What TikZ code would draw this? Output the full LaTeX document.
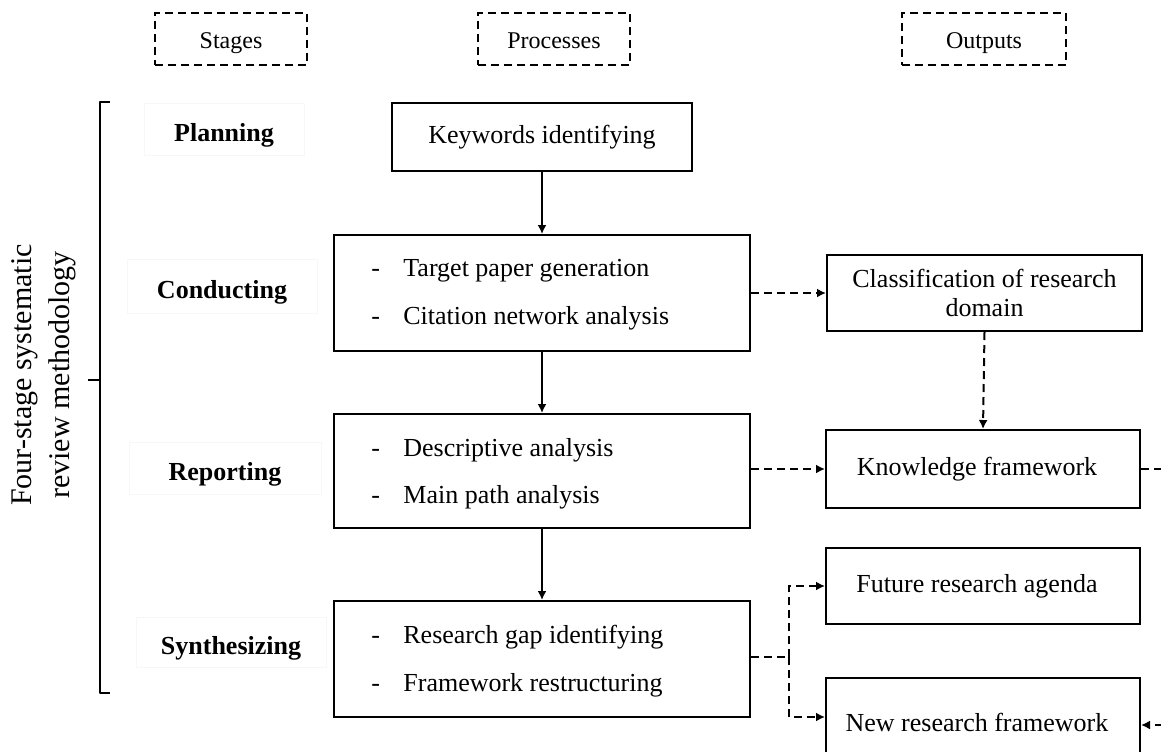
\documentclass[tikz,border=0pt]{standalone}
\usepackage{fontspec}
\setmainfont{Liberation Serif}
\usetikzlibrary{arrows.meta}
\begin{document}
\begin{tikzpicture}[x=0.5pt,y=-0.5pt,
  box/.style={draw,line width=1pt,inner sep=0pt,font=\fontsize{13}{16}\selectfont,align=center},
  head/.style={draw,line width=0.8pt,dash pattern=on 4pt off 2.5pt,inner sep=0pt,font=\fontsize{12}{14}\selectfont,minimum height=26pt,text height=10pt,text depth=1pt},
  stagelbl/.style={draw=black!3,line width=0.5pt,inner sep=0pt,font=\bfseries\fontsize{13}{16}\selectfont,text height=13pt,text depth=1pt},
  item/.style={anchor=west,inner sep=0pt,font=\fontsize{13}{16}\selectfont,text height=9pt,text depth=3pt},
  solidarr/.style={line width=1pt,-{Latex[length=4.5pt,width=4.5pt]}},
  dasharr/.style={line width=1pt,dash pattern=on 4pt off 2.5pt,-{Latex[length=4.5pt,width=4.5pt]}},
  dashline/.style={line width=1pt,dash pattern=on 4pt off 2.5pt}]
\useasboundingbox (0,0) rectangle (1161,751);
\clip (0,0) rectangle (1161,751);

% headers
\node[head,minimum width=76pt] (hs) at (231,39) {Stages};
\node[head,minimum width=76pt] (hp) at (554,39) {Processes};
\node[head,minimum width=82pt] (ho) at (984,39) {Outputs};

% brace
\draw[line width=1pt,line join=round] (110,102) -- (100,102) -- (100,693) -- (110,693);
\draw[line width=1pt] (100,380) -- (88,380);
\node[rotate=90,align=center,inner sep=0pt,font=\fontsize{15}{19}\selectfont] (side) at (44,375)
  {Four-stage systematic\\review methodology};

% stage labels
\node[stagelbl,minimum width=80pt,minimum height=26pt] (s1) at (224,129) {Planning};
\node[stagelbl,minimum width=95pt,minimum height=27pt] (s2) at (222,286) {Conducting};
\node[stagelbl,minimum width=96pt,minimum height=26pt] (s3) at (225,468) {Reporting};
\node[stagelbl,minimum width=95pt,minimum height=25pt] (s4) at (231,642) {Synthesizing};

% process boxes
\node[box,minimum width=150pt,minimum height=34pt] (p1) at (542,137) {Keywords identifying};
\node[box,minimum width=208pt,minimum height=58pt] (p2) at (542,293) {};
\node[box,minimum width=208pt,minimum height=57pt] (p3) at (542,471) {};
\node[box,minimum width=208pt,minimum height=58pt] (p4) at (542,659) {};

\node[item] (i21) at (371,270) {\makebox[16pt][l]{-}Target paper generation};
\node[item] (i22) at (371,318) {\makebox[16pt][l]{-}Citation network analysis};
\node[item] (i31) at (371,450) {\makebox[16pt][l]{-}Descriptive analysis};
\node[item] (i32) at (371,497) {\makebox[16pt][l]{-}Main path analysis};
\node[item] (i41) at (371,637) {\makebox[16pt][l]{-}Research gap identifying};
\node[item] (i42) at (371,685) {\makebox[16pt][l]{-}Framework restructuring};

% output boxes
\node[box,minimum width=157.5pt,minimum height=38pt] (o1) at (984.5,293) {Classification of research\\[-1.5pt]domain};
\node[box,minimum width=157pt,minimum height=39pt] (o2) at (983,469) {\hspace*{-6pt}Knowledge framework};
\node[box,minimum width=157pt,minimum height=38pt] (o3) at (983,586) {\hspace*{-6pt}Future research agenda};
\node[box,minimum width=157pt,minimum height=44pt] (o4) at (983,722) {\hspace*{-6pt}New research framework};

% solid arrows
\draw[solidarr] (p1.south) -- (p2.north);
\draw[solidarr] (p2.south) -- (p3.north);
\draw[solidarr] (p3.south) -- (p4.north);

% dashed arrows
\draw[dasharr] (p2.east |- o1.west) -- (o1.west);
\draw[dasharr] (o1.south) -- (o2.north);
\draw[dasharr] (p3.east |- o2.west) -- (o2.west);
\coordinate (j) at (789,657);
\draw[dashline] (p4.east |- j) -- (j);
\draw[dasharr] (j) |- (o3.west);
\draw[dasharr] (j) |- ([yshift=2.5pt]o4.west);
\coordinate (r) at (1180,469);
\draw[dasharr] (o2.east) -- (r) |- ([yshift=-1.5pt]o4.east);
\end{tikzpicture}
\end{document}
